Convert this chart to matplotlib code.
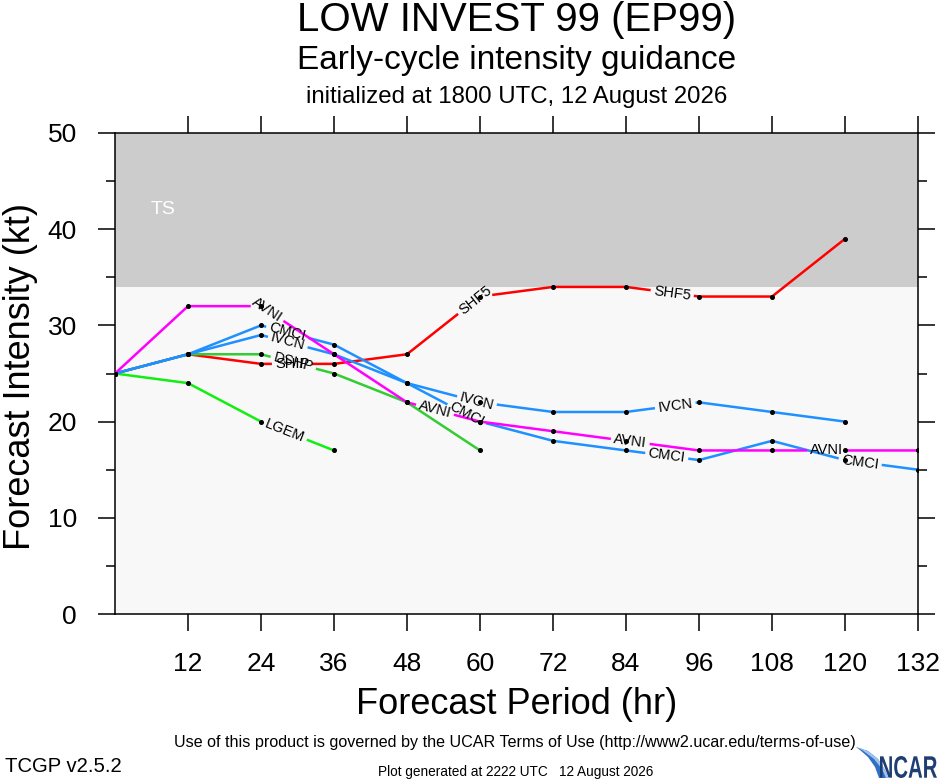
import numpy as np
import matplotlib
matplotlib.use("Agg")
import matplotlib.pyplot as plt
from matplotlib import font_manager
from matplotlib.patches import Polygon, PathPatch
from matplotlib.textpath import TextPath
from matplotlib.transforms import Affine2D, IdentityTransform

# Forecast hours and model intensities (kt)
hours = [0, 12, 24, 36, 48, 60, 72, 84, 96, 108, 120, 132]
avni = [25, 32, 32, 27, 22, 20, 19, 18, 17, 17, 17, 17]
cmci = [25, 27, 30, 28, 24, 20, 18, 17, 16, 18, 16, 15]
ivcn = [25, 27, 29, 27, 24, 22, 21, 21, 22, 21, 20]
shf5 = [25, 27, 26, 26, 27, 33, 34, 34, 33, 33, 39]
dshp = [25, 27, 27, 25, 22, 17]
lgem = [25, 24, 20, 17]

# label text and where along the line (hour) it sits
avni_labels = [("AVNI", 25.0), ("AVNI", 52.6), ("AVNI", 84.7), ("AVNI", 117.0)]
cmci_labels = [("CMCI", 28.3), ("CMCI", 57.8), ("CMCI", 90.7), ("CMCI", 122.5)]
ivcn_labels = [("IVCN", 28.4), ("IVCN", 59.5), ("IVCN", 92.1)]
shf5_labels = [("SHIP", 29.1), ("SHF5", 59.2), ("SHF5", 91.6)]
dshp_labels = [("DSHP", 29.3)]
lgem_labels = [("LGEM", 27.9)]

TS_LOW = 34
TS_HIGH = 50

title = "LOW INVEST 99 (EP99)"
subtitle = "Early-cycle intensity guidance"
init_line = "initialized at 1800 UTC, 12 August 2026"


def have_font(name):
    try:
        font_manager.findfont(font_manager.FontProperties(family=name),
                              fallback_to_default=False)
        return True
    except Exception:
        return False


MAIN = "Liberation Sans"
NARROW = "Liberation Sans Narrow" if have_font("Liberation Sans Narrow") else MAIN
plt.rcParams['font.family'] = [MAIN, 'DejaVu Sans']

fig = plt.figure(figsize=(9.4, 7.8), dpi=100)
H = 780
ax = fig.add_axes([115 / 940, 1 - 614 / H, (918 - 115) / 940, (614 - 133) / H])
ax.set_facecolor('#f8f8f8')
ax.set_xlim(0, 132)
ax.set_ylim(0, 50)
ax.axhspan(TS_LOW, TS_HIGH, color='#cccccc', lw=0, zorder=0)
ax.text(7.9, 42, "TS", color='white', fontsize=14, ha='center', va='center')

ax.set_xticks(hours[1:])
ax.set_yticks(range(0, 51, 10))
ax.set_yticks(range(5, 50, 10), minor=True)
ax.tick_params(which='both', direction='out', width=1.1, colors='black',
               top=True, right=True, labeltop=False, labelright=False)
ax.tick_params(which='major', length=12.5, labelsize=19)
ax.tick_params(which='minor', length=6.5)
ax.tick_params(axis='x', pad=15)
ax.tick_params(axis='y', pad=15)
for s in ax.spines.values():
    s.set_linewidth(1.1)

ax.set_xlabel("Forecast Period (hr)", fontsize=26, labelpad=8)
fig.text(21 / 940, 1 - 376 / H, "Forecast Intensity (kt)", fontsize=26,
         rotation=90, ha='center', va='center')

series = [
    (shf5, '#ff0000', shf5_labels),
    (dshp, '#33cc33', dshp_labels),
    (lgem, '#11ee11', lgem_labels),
    (ivcn, '#1e90ff', ivcn_labels),
    (cmci, '#1e90ff', cmci_labels),
    (avni, '#ff00ff', avni_labels),
]

renderer = fig.canvas.get_renderer()
px_per_hour = ax.transData.transform((1, 0))[0] - ax.transData.transform((0, 0))[0]


def break_line(xs, ys, gaps):
    # rebuild the line with NaN holes where labels sit
    pts = sorted(set(list(xs) + [g for gap in gaps for g in gap]))
    out_x, out_y = [], []
    for x in pts:
        if any(a < x < b for a, b in gaps):
            continue
        out_x.append(x)
        out_y.append(np.interp(x, xs, ys))
        if any(x == a for a, b in gaps):
            out_x.append(np.nan)
            out_y.append(np.nan)
    return out_x, out_y


for i, (vals, color, labels) in enumerate(series):
    xs = hours[:len(vals)]
    gaps = []
    for name, h in labels:
        y = np.interp(h, xs, vals)
        k = min(np.searchsorted(xs, h, side='right') - 1, len(xs) - 2)
        p0 = ax.transData.transform((xs[k], vals[k]))
        p1 = ax.transData.transform((xs[k + 1], vals[k + 1]))
        ang = np.degrees(np.arctan2(p1[1] - p0[1], p1[0] - p0[0]))
        t = ax.text(h, y, name, fontsize=10.5, rotation=ang, rotation_mode='anchor',
                    ha='center', va='center', color='black', zorder=10)
        tw = renderer.get_text_width_height_descent(name, t.get_fontproperties(), ismath=False)[0]
        half = (tw / 2 + 3) * abs(np.cos(np.radians(ang))) / px_per_hour
        gaps.append((h - half, h + half))
    bx, by = break_line(xs, vals, gaps)
    ax.plot(bx, by, color=color, lw=1.8, zorder=3 + i, solid_capstyle='butt')
    ax.plot(xs, vals, ls='none', marker='o', ms=2.6, color='black', zorder=9)

# titles
cx = (115 + 918) / 2 / 940
fig.text(cx, 1 - 20 / H, title, fontsize=29, ha='center', va='center')
fig.text(cx, 1 - 61 / H, subtitle, fontsize=24, ha='center', va='center')
fig.text(cx, 1 - 97 / H, init_line, fontsize=17.3, ha='center', va='center')

# footer
fig.text(515 / 940, 1 - 742 / H,
         "Use of this product is governed by the UCAR Terms of Use (http://www2.ucar.edu/terms-of-use)",
         fontsize=11.6, ha='center', va='center', family=[NARROW, 'DejaVu Sans'])
fig.text(5 / 940, 1 - 767 / H, "TCGP v2.5.2", fontsize=14.6, ha='left', va='center',
         family=[NARROW, 'DejaVu Sans'])
fig.text(516 / 940, 1 - 772 / H, "Plot generated at 2222 UTC   12 August 2026",
         fontsize=9.8, ha='center', va='center', family=[NARROW, 'DejaVu Sans'])

# NCAR logo: swoosh + condensed text
def px(x, y):
    return (x / 940, 1 - y / H)


swoosh = Polygon([px(856, 747), px(868, 751), px(878, 759), px(885, 770), px(888, 778),
                  px(879, 778), px(875, 767), px(868, 757), px(860, 750)],
                 closed=True, transform=fig.transFigure, facecolor='#2f6fc4',
                 edgecolor='none')
fig.add_artist(swoosh)
edge = Polygon([px(856, 747), px(868, 751), px(878, 759), px(885, 770), px(888, 778),
                px(886, 778), px(882, 769), px(874, 759), px(862, 750)],
               closed=True, transform=fig.transFigure, facecolor='#9ec3ee',
               edgecolor='none')
fig.add_artist(edge)

logo = TextPath((0, 0), "NCAR", size=100,
                prop=font_manager.FontProperties(family=MAIN, weight='bold'))
bb = logo.get_extents()
sx = 57 / bb.width
sy = 22 / bb.height
logo_tr = Affine2D().translate(-bb.x0, -bb.y0).scale(sx, sy).translate(880, H - 778)
fig.add_artist(PathPatch(logo, transform=logo_tr + IdentityTransform(),
                         facecolor='#1f3f74', edgecolor='none'))

fig.savefig("out.png", dpi=100)
